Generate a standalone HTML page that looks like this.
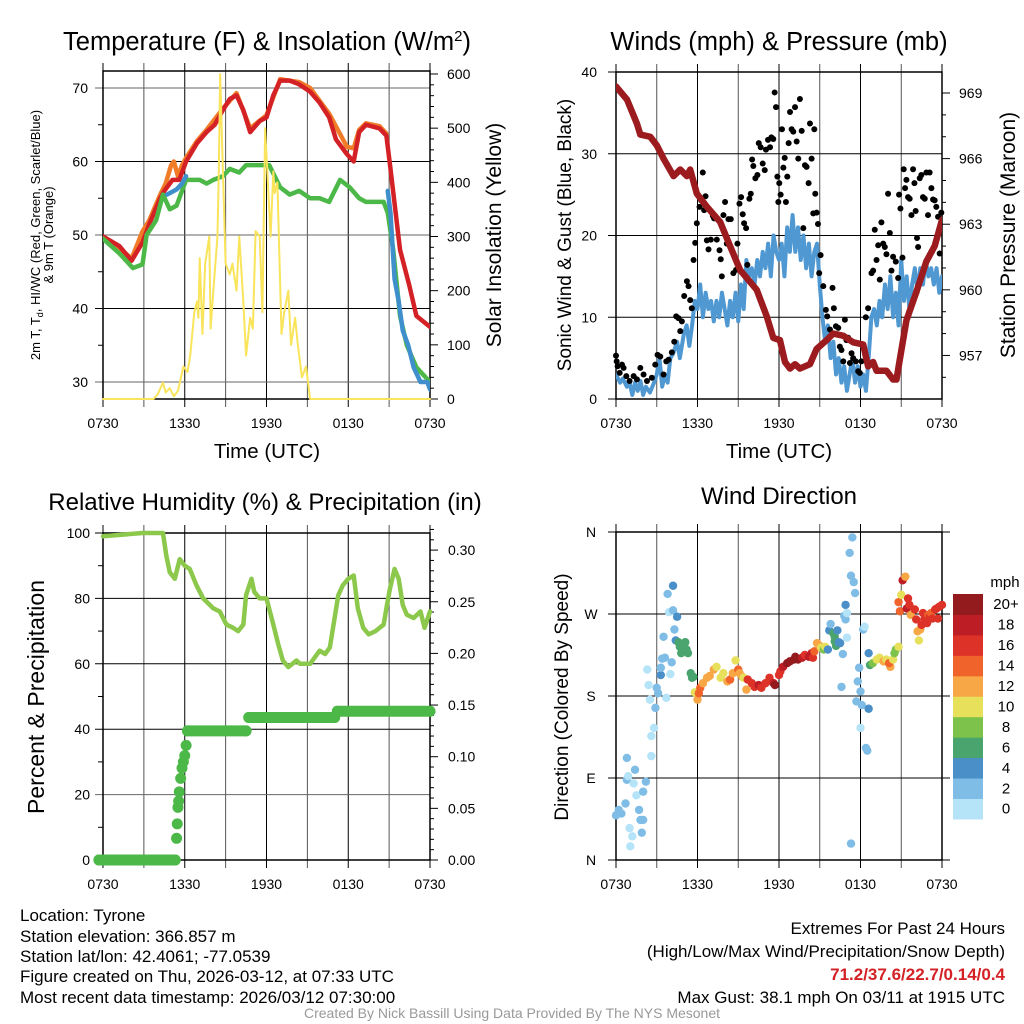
<!DOCTYPE html>
<html><head><meta charset="utf-8"><style>
html,body{margin:0;padding:0;background:#fff;}
svg{display:block;font-family:"Liberation Sans",sans-serif;}
.nar{font-family:"Liberation Sans Narrow","Liberation Sans",sans-serif;}
</style></head><body>
<svg id="fig" width="1024" height="1024" viewBox="0 0 1024 1024" xmlns="http://www.w3.org/2000/svg">
<rect width="1024" height="1024" fill="#fff"/>
<text x="267" y="50" font-size="25.5" text-anchor="middle">Temperature (F) &amp; Insolation (W/m<tspan dy="-9" font-size="15">2</tspan><tspan dy="9">)</tspan></text>
<text x="779" y="50" font-size="25.5" text-anchor="middle">Winds (mph) &amp; Pressure (mb)</text>
<text x="265" y="510" font-size="24" text-anchor="middle">Relative Humidity (%) &amp; Precipitation (in)</text>
<text x="779" y="504" font-size="24" text-anchor="middle">Wind Direction</text>
<text x="267" y="458" font-size="20.5" text-anchor="middle">Time (UTC)</text>
<text x="779" y="458" font-size="20.5" text-anchor="middle">Time (UTC)</text>
<text transform="translate(40,235) rotate(-90)" font-size="13" text-anchor="middle">2m T, T<tspan dy="3" font-size="9">d</tspan><tspan dy="-3">, HI/WC (Red, Green, Scarlet/Blue)</tspan></text>
<text transform="translate(53,235) rotate(-90)" font-size="13" text-anchor="middle">&amp; 9m T (Orange)</text>
<text transform="translate(501,235) rotate(-90)" font-size="21" text-anchor="middle">Solar Insolation (Yellow)</text>
<text transform="translate(571,235) rotate(-90)" font-size="19" text-anchor="middle">Sonic Wind &amp; Gust (Blue, Black)</text>
<text transform="translate(1015,235) rotate(-90)" font-size="21" text-anchor="middle">Station Pressure (Maroon)</text>
<text transform="translate(44,697) rotate(-90)" font-size="23" text-anchor="middle">Percent &amp; Precipitation</text>
<text transform="translate(568,697) rotate(-90)" font-size="19" text-anchor="middle">Direction (Colored By Speed)</text>
<g class="nar" font-size="17">
<text x="20" y="921">Location: Tyrone</text>
<text x="20" y="942">Station elevation: 366.857 m</text>
<text x="20" y="962">Station lat/lon: 42.4061; -77.0539</text>
<text x="20" y="982">Figure created on Thu, 2026-03-12, at 07:33 UTC</text>
<text x="20" y="1003">Most recent data timestamp: 2026/03/12 07:30:00</text>
</g>
<g class="nar" font-size="17" text-anchor="end">
<text x="1005" y="934">Extremes For Past 24 Hours</text>
<text x="1005" y="957">(High/Low/Max Wind/Precipitation/Snow Depth)</text>
<text x="1005" y="980" fill="#d42126" font-weight="bold">71.2/37.6/22.7/0.14/0.4</text>
<text x="1005" y="1003">Max Gust: 38.1 mph On 03/11 at 1915 UTC</text>
</g>
<text class="nar" x="512" y="1018" font-size="14" fill="#999" text-anchor="middle">Created By Nick Bassill Using Data Provided By The NYS Mesonet</text>
<g id="layer"></g>
</svg>
<script>
// ---------- Temperature panel data (hours since 0730 UTC) ----------
const tempRedT = [0,1.2,2.1,2.9,3.4,4.2,4.5,5.1,5.6,6.1,6.9,7.6,8.2,8.8,9.3,9.8,10.3,10.8,11.5,12,12.5,13,13.7,14.4,15.2,15.9,16.6,17.1,17.9,18.4,18.8,19.3,20.3,20.8,21.1,21.8,22.5,23,24];
const tempRedV = [49.8,48.5,46.5,49,51.5,55,56,57.5,57.5,60,62.5,64,65,67,68.5,69,67,64,65.5,66,69,71,71,70.5,69.5,68,66,63,61,60,64,65,64.5,63.5,59,48,43,39,37.5];
const tempOrangeT = [0,1.2,2.1,2.9,3.4,4.2,4.6,5.0,5.2,5.5,5.8,6.1,6.9,7.6,8.8,9.8,10.8,12,13,14.4,15.2,16.6,17.9,18.4,18.8,19.3,20.3,20.8];
const tempOrangeV = [49.6,48.2,46.8,50.5,52,55.5,57,59.5,60,58,59.5,60.5,62.8,64.3,67.2,69.3,64.5,66.3,71.2,70.8,70,66.5,62,61.8,64.3,65.2,64.8,63.8];
const tempGreenT = [0,1.2,2.2,2.9,3.2,3.9,4.4,4.9,5.4,6.1,7.1,7.6,8.1,8.8,9.3,10,10.5,11.5,12.2,13,13.7,14.4,15.2,15.9,16.6,17.4,18.1,18.8,19.3,20.6,20.9,21.3,21.8,22.3,23,24];
const tempGreenV = [49.5,47.5,45.5,46,50,52,55.5,53.5,54,57.5,57.5,57,57.5,58,59,58.5,59.5,59.5,59.5,56.5,55.5,56,55,55,54.5,57.5,56.5,55,54.5,54.5,53,48,39,35,32,30];
const tempBlueT1 = [4.7,5.0,5.4,5.8,6.1];
const tempBlueV1 = [55.5,55.8,56.2,57,58];
const tempBlueT2 = [20.9,21.1,21.4,21.7,22,22.4,22.8,23.3,23.8,24];
const tempBlueV2 = [56,53,44,41,37,35,32,30,30,29];
const solarT = [0,3.7,4.0,4.4,4.6,4.9,5.2,5.5,5.9,6.2,6.4,6.7,6.9,7.0,7.1,7.3,7.5,7.8,7.9,8.1,8.4,8.5,8.6,8.8,9.0,9.3,9.5,9.8,10.0,10.3,10.5,10.8,11.0,11.2,11.5,11.7,11.9,12.1,12.3,12.5,12.6,12.8,13.1,13.3,13.6,13.8,14.1,14.3,14.6,14.9,15.2,24];
const solarV = [0,0,8,30,12,20,5,15,60,50,80,160,180,150,260,120,250,300,130,200,300,420,600,420,250,230,250,200,300,180,80,150,130,310,300,160,500,400,300,420,380,400,120,160,200,100,150,100,40,60,0,0];
// ---------- Wind panel data ----------
const windT = [0,0.3,0.5,0.8,1.0,1.2,1.4,1.6,1.8,2.0,2.2,2.5,2.8,3.0,3.2,3.4,3.6,3.8,4.0,4.2,4.5,4.7,5.0,5.2,5.4,5.6,5.8,6.0,6.2,6.4,6.6,6.8,7.0,7.2,7.4,7.6,7.8,8.0,8.2,8.4,8.6,8.8,9.0,9.2,9.4,9.6,9.8,10.0,10.2,10.4,10.6,10.8,11.0,11.2,11.4,11.6,11.8,12.0,12.2,12.4,12.6,12.8,13.0,13.2,13.4,13.6,13.8,14.0,14.2,14.4,14.6,14.8,15.0,15.2,15.4,15.6,15.8,16.0,16.2,16.4,16.6,16.8,17.0,17.2,17.4,17.6,17.8,18.0,18.2,18.4,18.6,18.8,19.0,19.2,19.4,19.6,19.8,20.0,20.2,20.4,20.6,20.8,21.0,21.2,21.4,21.6,21.8,22.0,22.2,22.4,22.6,22.8,23.0,23.2,23.4,23.6,23.8,24];
const windV = [3,2,2.5,1.5,2,0.5,2,1,2.2,0.5,1.5,0.8,2,3,5,1.5,3,2,5,5.5,7,5,8,9,6.5,9,12,11,14,10,13,11,12,9.5,12,10,13,11,9,12,10,13,9.5,14,11,17,15,16,14,17,15,18,16,19,15,20,18,17,19,15,21,18,22.5,18,21,17,20,16,19,15,18,19,14,10,7,9,5,7,3,5,2,4,1,3,5,2,4,1.5,3,1,5,10,11,9,12,10,14,11,15,10,13,9,17,12,15,11,14,16,13,16,14,17,15,16,14,16,13,15];
const gustT = [0,0.05,0.12,0.27,0.44,0.56,0.76,1.0,1.3,1.54,1.79,2.03,2.28,2.64,2.89,3.06,3.26,3.5,3.7,3.87,4.11,4.29,4.43,4.6,4.73,4.85,5.02,5.22,5.34,5.46,5.58,5.71,5.83,5.95,6.15,6.27,6.39,6.49,6.59,6.69,6.81,6.98,7.13,7.22,7.42,7.62,7.71,7.79,7.91,8.03,8.16,8.28,8.45,8.64,8.84,8.94,9.09,9.21,9.33,9.43,9.58,9.67,9.82,9.92,10.02,10.11,10.26,10.41,10.51,10.65,10.8,10.95,11.04,11.19,11.34,11.44,11.58,11.68,11.78,11.88,11.95,12.02,12.12,12.22,12.32,12.42,12.51,12.61,12.71,12.81,12.93,13.05,13.18,13.3,13.42,13.54,13.67,13.79,13.91,14.03,14.18,14.28,14.4,14.52,14.6,14.67,14.77,14.87,14.96,15.06,15.26,15.45,15.55,15.75,15.94,16.04,16.19,16.36,16.48,16.6,16.73,16.85,16.97,17.09,17.22,17.34,17.46,17.66,17.83,17.95,18.07,18.39,18.56,18.81,18.93,19.05,19.18,19.3,19.42,19.54,19.67,19.79,19.91,20.03,20.16,20.28,20.4,20.6,20.77,20.84,20.94,21.09,21.18,21.28,21.38,21.5,21.62,21.75,21.87,21.97,22.06,22.16,22.24,22.36,22.48,22.6,22.73,22.85,22.97,23.09,23.22,23.34,23.46,23.58,23.71,23.83,23.95];
const gustV = [5.3,4.6,4.0,3.2,4.2,3.8,2.8,2.2,2.8,2.4,3.8,3.0,2.2,2.6,4.2,5.4,5.2,3.0,4.6,4.8,5.7,7.0,10.1,9.9,8.3,9.5,12.6,14.4,13.8,12.1,11.1,17.0,19.1,21.5,23.5,24.3,27.7,23.1,24.8,19.4,18.3,19.5,22.4,22.1,19.5,18.2,17.1,15.0,22.5,24.1,19.0,22.0,22.0,15.4,15.8,19.0,23.9,24.7,22.6,21.5,20.9,16.4,24.5,25.1,29.3,28.5,27.0,27.4,31.3,30.8,28.8,28.0,30.5,31.7,30.8,32.0,31.8,37.5,35.7,27.2,24.1,26.4,25.0,33.0,28.3,29.5,24.1,27.2,31.3,35.1,33.0,32.7,35.7,31.5,29.4,36.7,32.8,20.9,28.6,28.4,26.4,33.7,29.4,22.7,33.0,25.1,22.8,21.4,15.4,17.6,13.8,10.9,10.1,8.5,13.6,11.1,8.9,8.7,6.4,6.0,4.6,9.7,7.2,7.5,4.4,5.6,5.0,4.6,3.4,3.2,4.6,10.0,11.1,15.4,15.7,20.7,17.0,18.8,14.6,21.6,19.0,18.6,17.7,25.1,20.3,15.7,17.4,16.8,14.8,25.0,23.3,17.3,28.1,25.8,26.8,24.7,24.5,22.5,28.1,26.4,23.0,19.7,18.6,27.0,27.4,24.7,24.5,27.7,22.5,27.7,25.8,24.4,24.3,23.5,22.3,17.8,22.8];
const presT = [0,0.81,1.54,1.79,2.52,3.01,3.5,4.24,4.73,5.22,5.46,5.95,6.69,7.67,8.4,9.14,10.36,11.09,11.58,12.07,12.44,12.81,13.18,13.54,14.28,14.77,15.5,15.99,16.73,17.46,18.2,18.56,18.93,19.18,19.91,20.4,20.65,20.89,21.38,22.11,22.85,23.46,24];
const presV = [969.3,968.7,967.6,967.1,967,966.6,966,965.2,965.5,965.2,965.5,964.4,963.8,963.1,962,960.9,960,958.8,957.8,957.7,956.7,956.4,956.6,956.4,956.6,957.3,957.7,958,957.9,957.6,957.5,956.5,956.7,956.3,956.3,955.9,955.9,956.8,958.6,959.9,961.3,962,963.2];
// ---------- Humidity / precipitation ----------
const rhT = [0,2.9,4.4,4.65,4.9,5.27,5.63,6.0,6.37,6.86,7.35,8.08,8.57,9.06,9.55,9.92,10.3,10.5,10.9,11.1,11.5,12,12.5,12.86,13.2,13.6,14.2,14.45,15.2,15.9,16.3,16.65,17.27,17.6,18,18.4,18.7,19.1,19.5,20,20.6,20.8,21.06,21.4,21.7,22,22.3,22.8,23.3,23.6,24];
const rhV = [99,100,100,93,88,86,92,90,89,84,80,77,76,72,71,70,72,81,86,82,80,80,72,66,61,59,61,60,60,64,63,65,81,84,86,87,77,71,69,70,72,77,83,89,86,78,75,74,76,71,76];
const precipT = [-0.3,5.3,5.4,5.45,5.5,5.55,5.6,5.7,5.8,5.9,6.0,6.1,6.2,10.5,10.7,17.0,17.2,24];
const precipV = [0,0,0.021,0.035,0.051,0.057,0.066,0.079,0.089,0.095,0.101,0.111,0.125,0.125,0.138,0.138,0.144,0.144];
// ---------- Wind direction ----------
const dirT = [0,0.2,0.4,0.7,0.8,0.8,0.9,1.0,1.05,1.2,1.3,1.4,1.5,1.7,1.8,1.9,2.0,2.2,2.0,2.3,2.4,2.5,2.6,2.8,2.6,2.9,3.0,3.1,3.3,3.3,3.4,3.5,3.6,3.7,3.8,3.9,4.0,4.1,4.2,4.2,4.3,4.4,4.5,4.6,4.7,4.8,5.1,5.2,5.3,5.5,5.6,5.7,5.8,6.0,6.1,6.2,6.4,6.7,6.9,7.2,7.4,7.7,7.9,8.2,8.4,8.6,8.8,9.0,9.1,9.3,9.4,9.6,9.7,10.0,10.2,10.5,10.7,11.0,11.3,11.6,11.7,12.0,12.1,12.3,12.6,12.8,13.1,13.2,13.4,13.7,13.9,14.2,14.4,14.5,14.6,14.8,15.0,15.1,15.3,15.4,15.6,15.7,15.8,16.0,16.1,16.1,16.2,16.3,16.4,16.5,16.6,16.7,16.8,16.9,16.9,17.0,17.0,17.2,17.3,17.3,17.4,17.5,17.6,17.7,17.8,17.9,18.0,18.0,18.1,18.2,18.3,18.4,18.5,18.6,18.6,18.7,18.9,19.2,19.4,19.7,19.9,20.2,20.1,20.4,20.5,20.6,20.8,20.8,20.9,21.0,21.1,21.3,21.4,21.5,21.6,21.7,22.0,22.1,22.2,22.3,22.4,22.5,22.6,22.7,22.9,23.0,23.1,23.2,23.3,23.5,23.6,23.7,23.8,24.0];
const dirDeg = [49,55,51,62,112,88,92,35,15,26,84,99,71,55,44,30,44,86,75,209,192,176,136,145,114,167,189,183,203,211,221,245,222,178,292,272,204,217,274,301,253,241,267,239,234,227,239,231,227,205,200,201,184,176,183,189,194,200,202,209,212,200,205,196,198,205,219,209,205,201,200,187,198,194,190,192,189,194,200,194,192,203,207,212,216,218,220,223,220,222,225,223,227,222,229,238,235,233,231,234,231,252,259,249,245,240,235,252,239,238,190,226,268,280,264,244,271,337,18,312,354,305,293,174,196,211,185,145,170,253,256,123,120,166,227,214,216,220,222,218,220,212,216,220,227,231,234,283,273,291,307,311,276,287,280,269,275,264,251,241,253,258,271,264,260,269,267,271,265,275,276,265,278,280];
const dirSpd = [2,2,2,2,2,2,1,0,1,0,0,2,0,2,2,2,2,2,2,0,0,0,0,0,0,3,2,2,4,2,2,2,2,0,2,0,0,2,2,4,2,4,4,6,6,6,7,7,7,6,6,7,10,12,14,14,12,12,13,12,11,10,11,12,14,12,10,15,13,12,10,12,16,16,17,19,16,16,17,19,20,17,17,19,20,20,20,20,20,19,17,18,18,16,14,13,12,11,9,11,4,4,3,6,6,7,6,4,4,4,2,2,2,4,2,0,0,2,2,2,2,2,2,2,2,2,2,0,2,2,0,2,2,4,4,6,9,11,10,12,11,12,14,10,9,8,10,14,14,10,18,13,18,16,16,13,16,16,12,10,12,16,16,16,17,15,16,15,17,16,16,17,16,16];
const speedBins = ["0","2","4","6","8","10","12","14","16","18","20+"];
const binColors = ["#b5e3f8","#7fbde6","#4a8fc8","#4aa46e","#7dc24b","#e7e05a","#f7a746","#f0632b","#dc3228","#bd1d25","#931a1d"];
const timeTickLabels = ["0730","1330","1930","0130","0730"];
const tempTicks = [30,40,50,60,70];
const solarTicks = [0,100,200,300,400,500,600];
const windTicks = [0,10,20,30,40];
const presTicks = [957,960,963,966,969];
const rhTicks = [0,20,40,60,80,100];
const precipTicks = ["0.00","0.05","0.10","0.15","0.20","0.25","0.30"];
const dirTicks = ["N","E","S","W","N"];

const NS="http://www.w3.org/2000/svg";
const layer=document.getElementById('layer');
function mk(tag,attrs,parent){const e=document.createElementNS(NS,tag);for(const k in attrs)e.setAttribute(k,attrs[k]);(parent||layer).appendChild(e);return e;}
function txt(x,y,s,size,anchor,parent){const e=mk('text',{x:x,y:y,'font-size':size,'text-anchor':anchor},parent);e.textContent=s;return e;}

function panel(name,x0,x1,y0,y1){
  const g=mk('g',{});
  
  
  const cp=mk('clipPath',{id:'clip-'+name},g);
  mk('rect',{x:x0,y:y0-2,width:x1-x0,height:y1-y0+4},cp);
  return g;
}
function timeAxis(g,x0,x1,y0,y1){
  const X=h=>x0+h*(x1-x0)/24;
  for(let h=0;h<=24;h+=3){
    const l=mk('line',{x1:X(h),x2:X(h),y1:y0-8,y2:y1+8,stroke:(h%6===0?'#000':'#555'),'stroke-width':1},g);
    
    
  }
  timeTickLabels.forEach((s,i)=>{
    const t=txt(X(i*6),y1+29,s,14,'middle',g);
    
    
  });
}
function hgrid(g,x0,x1,y,dark){
  const l=mk('line',{x1:x0-8,x2:x1,y1:y,y2:y,stroke:dark?'#000':'#666','stroke-width':1},g);
  
  
}
function poly(g,xs,ys,color,w,name,clip){
  const p=mk('polyline',{points:xs.map((x,i)=>x+','+ys[i]).join(' '),fill:'none',stroke:color,'stroke-width':w,'stroke-linejoin':'round','stroke-linecap':'round'},g);
  if(clip)p.setAttribute('clip-path','url(#'+clip+')');
  
  
  return p;
}
function frame(g,x0,x1,y0,y1){mk('rect',{x:x0,y:y0,width:x1-x0,height:y1-y0,fill:'none',stroke:'#000','stroke-width':1.5},g);}

// ===== Panel 1: Temperature =====
(function(){
  const x0=103,x1=430,y0=71,y1=399;
  const g=panel('temperature-panel',x0,x1,y0,y1);
  const X=h=>x0+h*(x1-x0)/24;
  const Y=v=>88+(70-v)*7.35;
  const S=w=>399-w*325/600;
  timeAxis(g,x0,x1,y0,y1);
  tempTicks.forEach(v=>{hgrid(g,x0,x1,Y(v),v%20===0);const t=txt(88,Y(v)+5,String(v),14,'end',g);});
  for(let v=35;v<=70;v+=10)mk('line',{x1:x0-5,x2:x0,y1:Y(v),y2:Y(v),stroke:'#000'},g);
  for(let w=0;w<=600;w+=20)mk('line',{x1:x1,x2:x1+(w%100===0?8:4),y1:S(w),y2:S(w),stroke:'#000'},g);
  solarTicks.forEach(w=>{const t=txt(447,S(w)+5,String(w),14,'start',g);});
  frame(g,x0,x1,y0,y1);
  poly(g,tempOrangeT.map(X),tempOrangeV.map(Y),'#f07c28',4.5,'nine-meter-temp-line','clip-temperature-panel');
  poly(g,tempRedT.map(X),tempRedV.map(Y),'#d42126',4.5,'two-meter-temp-line','clip-temperature-panel');
  poly(g,tempGreenT.map(X),tempGreenV.map(Y),'#4cb848',4.5,'dewpoint-line','clip-temperature-panel');
  poly(g,tempBlueT1.map(X),tempBlueV1.map(Y),'#3f8fcc',4.5,'heat-index-line','clip-temperature-panel');
  poly(g,tempBlueT2.map(X),tempBlueV2.map(Y),'#3f8fcc',4.5,'wind-chill-line','clip-temperature-panel');
  poly(g,solarT.map(X),solarV.map(S),'#f9e45b',2,'solar-insolation-line');
})();

// ===== Panel 2: Winds =====
(function(){
  const x0=616,x1=942,y0=72,y1=399;
  const g=panel('winds-panel',x0,x1,y0,y1);
  const X=h=>x0+h*(x1-x0)/24;
  const Y=v=>399-v*(y1-y0)/40;
  const P=p=>93+(969-p)*21.87;
  timeAxis(g,x0,x1,y0,y1);
  windTicks.forEach(v=>{hgrid(g,x0,x1,Y(v),true);const t=txt(597,Y(v)+5,String(v),14,'end',g);});
  for(let p=956;p<=970;p+=1){const yy=P(p);if(yy>=y0&&yy<=y1)mk('line',{x1:x1,x2:x1+(presTicks.includes(p)?8:4),y1:yy,y2:yy,stroke:'#000'},g);}
  presTicks.forEach(p=>{const t=txt(959,P(p)+5,String(p),14,'start',g);});
  frame(g,x0,x1,y0,y1);
  poly(g,windT.map(X),windV.map(Y),'#4f98d2',4,'sustained-wind-line','clip-winds-panel');
  gustT.forEach((h,i)=>{
    const c=mk('circle',{cx:X(h),cy:Y(gustV[i]),r:3,fill:'#000'},g);
    
    
  });
  poly(g,presT.map(X),presV.map(P),'#9b1b1e',6.5,'pressure-line','clip-winds-panel');
})();

// ===== Panel 3: Humidity =====
(function(){
  const x0=103,x1=430,y0=533,y1=860;
  const g=panel('humidity-panel',x0,x1,y0,y1);
  const X=h=>x0+h*(x1-x0)/24;
  const Y=v=>860-v*3.27;
  const R=v=>860-v*1033;
  timeAxis(g,x0,x1,y0,y1);
  rhTicks.forEach(v=>{hgrid(g,x0,x1,Y(v),v%40===0||v===100||v===60);const t=txt(90,Y(v)+5,String(v),14,'end',g);});
  for(let v=10;v<100;v+=20)mk('line',{x1:x0-5,x2:x0,y1:Y(v),y2:Y(v),stroke:'#000'},g);
  for(let k=0;k<=32;k++){const yy=R(k/100);mk('line',{x1:x1,x2:x1+(k%5===0?8:4),y1:yy,y2:yy,stroke:'#000'},g);}
  precipTicks.forEach(s=>{const t=txt(448,R(parseFloat(s))+5,s,14,'start',g);});
  frame(g,x0,x1,y0,y1);
  poly(g,rhT.map(X),rhV.map(Y),'#8cc84b',4.5,'humidity-line');
  for(let i=1;i<precipT.length;i++){
    if(precipV[i]===precipV[i-1]){
      const l=mk('line',{x1:X(precipT[i-1]),x2:X(precipT[i]),y1:R(precipV[i]),y2:R(precipV[i]),stroke:'#4cb848','stroke-width':11,'stroke-linecap':'round'},g);
      
      
    }
  }
  precipT.forEach((h,i)=>{
    const c=mk('circle',{cx:X(h),cy:R(precipV[i]),r:5.5,fill:'#4cb848'},g);
    
    
  });
})();

// ===== Panel 4: Wind direction =====
(function(){
  const x0=616,x1=942,y0=532,y1=860;
  const g=panel('wind-direction-panel',x0,x1,y0,y1);
  const X=h=>x0+h*(x1-x0)/24;
  const D=d=>860-d*(y1-y0)/360;
  timeAxis(g,x0,x1,y0,y1);
  dirTicks.forEach((s,i)=>{mk('line',{x1:x0-8,x2:x1+8,y1:D(i*90),y2:D(i*90),stroke:'#000'},g);const t=txt(591,D(i*90)+5,s,14,'middle',g);});
  frame(g,x0,x1,y0,y1);
  dirT.forEach((h,i)=>{
    const b=Math.min(10,Math.floor(dirSpd[i]/2));
    const c=mk('circle',{cx:X(h),cy:D(dirDeg[i]),r:4.2,fill:binColors[b]},g);
    
    
  });
  const cb=mk('g',{});
  
  
  const top=594,bh=20.45;
  const m=txt(1005,587,'mph',15,'middle',cb);
  
  
  speedBins.forEach((s,i)=>{
    const yy=top+(10-i)*bh;
    const r=mk('rect',{x:953,y:yy,width:30,height:bh+0.5,fill:binColors[i]},cb);
    
    
    const t=txt(1006,yy+bh/2+5,s,15,'middle',cb);
    
    
  });
})();
</script>
</body></html>
